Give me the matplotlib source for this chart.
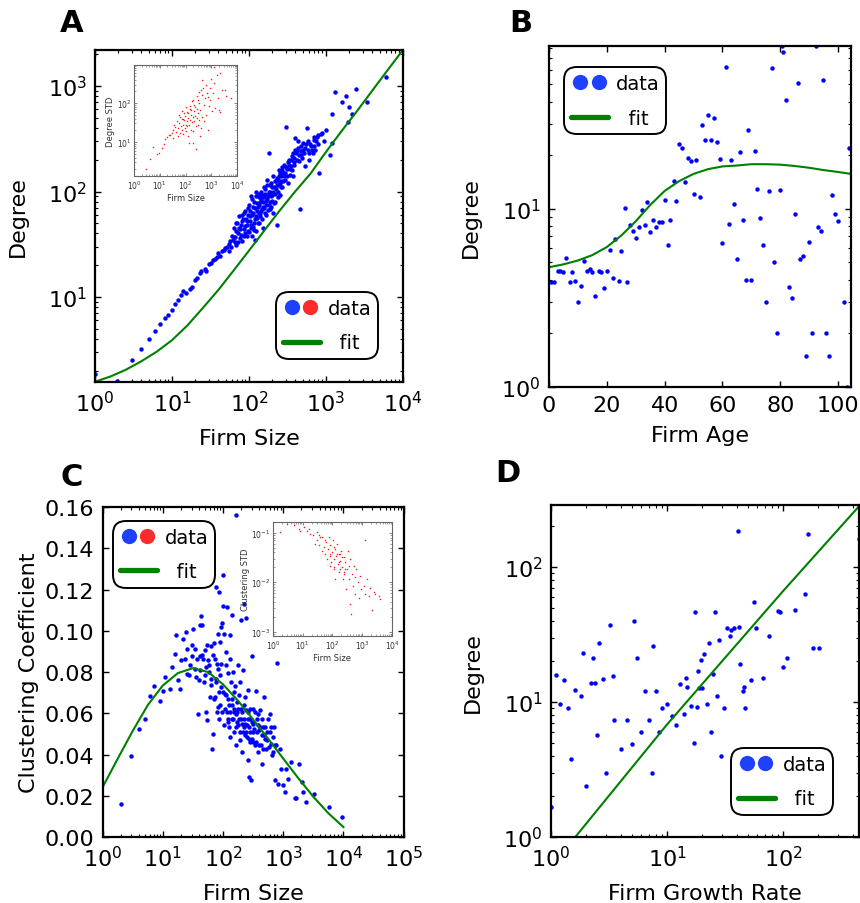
import numpy as np
import matplotlib
matplotlib.use('Agg')
import matplotlib.pyplot as plt
from matplotlib.lines import Line2D
from matplotlib.legend_handler import HandlerTuple
from matplotlib.ticker import FormatStrFormatter, LogLocator, NullFormatter

plt.rcParams['font.family'] = ['DejaVu Sans']
plt.rcParams['mathtext.fontset'] = 'dejavusans'

# ---------------- Panel A: Degree vs Firm Size ----------------
a_size_degree = [
    (1.0, 1.85), (1.95, 1.6), (3.0, 2.5), (4.0, 3.2), (5.0, 4.0), (6.0, 4.8), (7.0, 5.5), (8.0, 6.3),
    (9.0, 6.8), (10, 7.5), (11, 8.6), (12, 9.4), (13, 10.5), (14, 11.5), (15, 11.0), (17, 12.0),
    (18, 12.4), (20, 14.5), (21, 15.0), (23, 16.8), (24, 17.5), (27, 18.5), (28, 17.8), (30, 20.5),
    (32, 21), (34, 22.5), (36, 23), (38, 24), (40, 26), (42, 24.5), (44, 27), (47, 28), (49, 29),
    (52, 30), (55, 32), (57, 34), (60, 38), (62, 35), (63, 45), (65, 33), (67, 42), (70, 50),
    (72, 40), (75, 58), (77, 36), (79, 48), (80, 52), (82, 34), (85, 44), (87, 62), (90, 40),
    (92, 55), (95, 48), (98, 70), (100, 41), (103, 52), (105, 90), (108, 38), (110, 60), (112, 46),
    (115, 80), (118, 55), (120, 35), (122, 100), (125, 42), (128, 65), (130, 50), (133, 88),
    (136, 75), (140, 58), (143, 100), (146, 68), (150, 45), (153, 80), (156, 110), (160, 62),
    (163, 95), (166, 75), (170, 85), (173, 130), (176, 67), (180, 100), (184, 230), (188, 80),
    (192, 72), (196, 90), (200, 110), (205, 62), (210, 78), (215, 125), (220, 95), (225, 105),
    (230, 48), (235, 88), (240, 130), (245, 160), (250, 120), (255, 92), (260, 140), (265, 170),
    (270, 110), (280, 150), (290, 130), (300, 410), (310, 165), (320, 120), (330, 180), (340, 145),
    (350, 200), (360, 160), (370, 140), (380, 210), (390, 180), (400, 320), (410, 230), (420, 200),
    (430, 260), (450, 195), (460, 69), (470, 240), (480, 220), (500, 290), (520, 230), (540, 175),
    (560, 400), (580, 250), (600, 230), (620, 280), (650, 250), (680, 230), (700, 270), (720, 250),
    (760, 330), (800, 340), (820, 150), (850, 350), (900, 360), (950, 300), (1000, 380),
    (1130, 220), (1200, 540), (1200, 290), (1300, 870), (1600, 700), (1800, 800), (1950, 455),
    (2000, 640), (2200, 540), (2450, 930), (3400, 710), (6000, 1230),
    (55, 27), (58, 30), (66, 37), (68, 31), (74, 45), (78, 39), (84, 55), (88, 47), (93, 38),
    (96, 60), (102, 65), (106, 45), (113, 72), (117, 43), (124, 58), (127, 78), (135, 50),
    (138, 62), (145, 85), (148, 55), (158, 70), (165, 60), (175, 92), (185, 115), (190, 68),
    (198, 82), (208, 98), (218, 80), (228, 115), (238, 100), (248, 140), (258, 110), (275, 125),
    (285, 180), (295, 150), (315, 140), (335, 200), (355, 175), (375, 230), (395, 250),
    (440, 300), (490, 210), (530, 260), (610, 200), (700, 310), (780, 280),
    (68, 50), (72, 33), (76, 44), (81, 60), (86, 38), (89, 66), (94, 52), (97, 42), (101, 75),
    (104, 58), (107, 48), (111, 85), (114, 62), (116, 50), (119, 70), (123, 90), (126, 56),
    (131, 72), (134, 62), (137, 95), (141, 80), (144, 66), (149, 92), (152, 72), (157, 88),
    (161, 105), (167, 82), (171, 115), (178, 90), (182, 75), (187, 98), (194, 120), (201, 92),
    (207, 140), (213, 110), (222, 125), (232, 135), (242, 115), (252, 150), (262, 125),
    (272, 160), (283, 140), (300, 170), (320, 190), (345, 165), (365, 215), (385, 190),
    (420, 240), (445, 220), (470, 270), (510, 250), (550, 280), (590, 300), (640, 270),
    (690, 330), (740, 300),
]
a_fit_size = [1, 1.585, 2.512, 3.981, 6.31, 10, 15.85, 25.12, 39.81, 63.1, 100, 158.5, 251.2,
              398.1, 631, 1000, 1585, 2512, 3981, 6310, 10000]
a_fit_degree = [1.57, 1.76, 2.04, 2.45, 3.02, 3.89, 5.37, 7.85, 11.6, 17.8, 27.5, 42.7, 66.1,
                100, 148, 237, 372, 575, 902, 1413, 2203]
a_inset_size_std = [
    (2.9, 2.1), (4.2, 3.6), (5.7, 7.6), (8.1, 4.9), (9.7, 5.2), (12, 7.2), (14, 8.7), (16, 11.7),
    (19, 13.6), (22, 14.8), (25, 15.6), (29, 17), (32, 21), (34, 13), (36, 28), (40, 25), (43, 18),
    (46, 34), (49, 14), (53, 23), (56, 50), (58, 31), (62, 17), (65, 26), (70, 38), (72, 21),
    (76, 61), (78, 28), (83, 16), (88, 36), (94, 23), (97, 46), (100, 28), (106, 79), (109, 19),
    (112, 34), (119, 26), (123, 55), (126, 14), (130, 42), (135, 9.6), (138, 28), (143, 70),
    (151, 37), (160, 21), (165, 50), (176, 110), (181, 33), (194, 9.6), (198, 45), (204, 19),
    (216, 61), (223, 34), (238, 79), (245, 26), (262, 6.5), (269, 42), (277, 148), (293, 28),
    (311, 56), (320, 100), (330, 37), (350, 14), (370, 68), (393, 218), (405, 23), (430, 45),
    (456, 390), (500, 90), (530, 34), (580, 134), (635, 50), (676, 180), (715, 21), (790, 85),
    (860, 240), (910, 120), (1050, 61), (1240, 320), (1300, 850), (1440, 75), (1670, 520),
    (1780, 134), (1950, 68), (2100, 58), (2240, 600), (2600, 218), (3500, 218), (3800, 150),
    (5800, 134), (60, 45), (80, 40), (90, 55), (115, 60), (150, 85), (170, 65), (190, 120),
    (210, 90), (240, 48), (280, 70), (300, 120), (340, 190), (420, 160), (480, 250), (600, 300),
    (750, 140), (1000, 420), (1200, 180),
]

# ---------------- Panel B: Degree vs Firm Age ----------------
b_age_degree = [
    (0.8, 3.9), (1.7, 3.9), (3.1, 4.5), (3.9, 4.5), (4.8, 4.4), (6.0, 5.3), (7.1, 3.9), (8.1, 4.4),
    (9.1, 3.95), (10.0, 3.0), (10.9, 3.7), (12.0, 5.1), (13.1, 4.5), (14.1, 4.6), (15.0, 4.4),
    (16.0, 3.25), (17.2, 4.5), (18.1, 4.4), (19.0, 3.6), (20.0, 4.5), (21.0, 5.9), (22.1, 4.1),
    (23.0, 6.8), (24.1, 3.95), (25.0, 5.8), (26.2, 10.1), (27.1, 3.9), (27.9, 8.1), (29.0, 7.55),
    (30.1, 6.9), (31.0, 7.9), (32.1, 9.9), (33.1, 8.1), (34.0, 10.9), (35.0, 7.45), (35.9, 8.7),
    (37.1, 7.9), (38.0, 8.4), (39.0, 8.4), (40.0, 11.2), (41.0, 6.3), (42.0, 8.6), (43.1, 14.3),
    (44.0, 11.1), (45.0, 23), (46.1, 22), (47.1, 14.1), (48.0, 19.3), (49.1, 18.5), (50.0, 12.1),
    (51.0, 18.9), (52.1, 11.6), (53.1, 29.7), (54.1, 24.2), (55.1, 33.8), (56.1, 24.2), (57.0, 32.5),
    (58.1, 23.7), (59.0, 19.1), (60.0, 6.4), (61.1, 62.7), (62.1, 8.2), (63.1, 18.7), (64.1, 10.7),
    (65.1, 5.2), (66.0, 20.9), (67.1, 8.7), (68.1, 4.0), (69.0, 27.6), (70.0, 4.0), (71.1, 21),
    (72.0, 13), (73.0, 8.9), (74.1, 6.3), (75.0, 3.0), (76.0, 12.6), (77.1, 62), (78.0, 5.0),
    (79.0, 2.0), (80.0, 12.8), (80.5, 82), (81.0, 76), (82.0, 41), (83.1, 3.65), (84.0, 3.16),
    (85.0, 9.3), (86.1, 51), (87.0, 5.2), (88.0, 5.46), (88.9, 1.5), (90.0, 6.5), (91.0, 2.0),
    (92.2, 82), (93.0, 7.95), (94.0, 7.5), (94.9, 53), (96.0, 2.0), (97.0, 1.5), (97.9, 12.0),
    (99.0, 9.3), (100.0, 8.5), (102.1, 3.0), (103.0, 1.0), (103.7, 22),
]
b_fit_age = [0, 5, 10, 15, 20, 25, 30, 35, 40, 45, 50, 55, 60, 65, 70, 75, 80, 85, 90, 95, 100, 104.5]
b_fit_degree = [4.70, 4.88, 5.13, 5.50, 6.10, 7.08, 8.51, 10.5, 12.6, 14.3, 15.7, 16.7, 17.3,
                17.5, 17.8, 17.8, 17.7, 17.4, 17.0, 16.5, 16.1, 15.7]

# ---------------- Panel C: Clustering vs Firm Size ----------------
c_size_clust = [
    (2.0, 0.0162), (3.0, 0.0393), (4.0, 0.0525), (5.0, 0.0574), (6.1, 0.0682), (7.1, 0.073),
    (8.9, 0.066), (10.1, 0.0706), (11, 0.0776), (13, 0.0719), (14, 0.0824), (15.8, 0.0889),
    (18, 0.0763), (19.6, 0.0719), (20, 0.0857), (22, 0.0961), (24, 0.0994), (25, 0.0792),
    (27, 0.0784), (30, 0.088), (32, 0.101), (34, 0.0913), (35, 0.0776), (38, 0.0598), (40, 0.076),
    (41, 0.088), (43, 0.107), (44, 0.1026), (48, 0.0751), (50, 0.0905), (52, 0.0824), (54, 0.0566),
    (56, 0.0857), (60, 0.0679), (64, 0.0924), (66, 0.0428), (69, 0.050), (73, 0.0865), (76, 0.0751),
    (77, 0.121), (79, 0.084), (82, 0.063), (85, 0.119), (88, 0.0945), (90, 0.0784), (94, 0.0727),
    (96, 0.1037), (98, 0.1118), (101, 0.1269), (104, 0.0986), (107, 0.0695), (110, 0.0897),
    (114, 0.0606), (117, 0.1115), (120, 0.0795), (122, 0.0558), (126, 0.0638), (129, 0.0978),
    (132, 0.0485), (135, 0.0751), (139, 0.1075), (143, 0.0574), (146, 0.080), (150, 0.0622),
    (154, 0.0509), (157, 0.073), (161, 0.156), (166, 0.0444), (170, 0.0606), (175, 0.0832),
    (179, 0.0541), (184, 0.0687), (189, 0.0469), (194, 0.0751), (198, 0.105), (204, 0.0412),
    (209, 0.0549), (214, 0.0808), (220, 0.0638), (225, 0.113), (231, 0.0493), (237, 0.106),
    (243, 0.0614), (249, 0.0541), (255, 0.0711), (262, 0.0372), (268, 0.0291), (275, 0.0574),
    (282, 0.0461), (294, 0.0275), (308, 0.088), (311, 0.0509), (319, 0.0622), (334, 0.0444),
    (347, 0.0708), (364, 0.0574), (376, 0.0412), (393, 0.0517), (412, 0.0614), (430, 0.0444),
    (447, 0.0352), (465, 0.0533), (484, 0.0679), (505, 0.0477), (521, 0.0428), (557, 0.0574),
    (591, 0.0598), (630, 0.0452), (650, 0.0396), (697, 0.0533), (717, 0.0275), (788, 0.0845),
    (810, 0.0259), (866, 0.0428), (930, 0.0331), (1000, 0.025), (1060, 0.0218), (1130, 0.0331),
    (1200, 0.0283), (1360, 0.0364), (1540, 0.0189), (1640, 0.0189), (1850, 0.0352), (2050, 0.0267),
    (2140, 0.0218), (2420, 0.017), (3300, 0.021), (5700, 0.0145), (9600, 0.0097),
    (47, 0.0865), (53, 0.0606), (59, 0.080), (62, 0.0735), (71, 0.067), (86, 0.0574), (92, 0.084),
    (99, 0.0703), (111, 0.0832), (121, 0.067), (130, 0.0865), (141, 0.067), (152, 0.0703),
    (164, 0.0598), (173, 0.0654), (186, 0.0574), (201, 0.0622), (211, 0.0509), (222, 0.0574),
    (234, 0.0679), (246, 0.0485), (258, 0.0606), (272, 0.0533), (285, 0.0622), (303, 0.0477),
    (315, 0.0549), (342, 0.0606), (360, 0.0509), (380, 0.0598), (404, 0.0533), (443, 0.0574),
    (480, 0.0493), (541, 0.0469), (600, 0.0509), (670, 0.0485), (762, 0.0444),
    (16.8, 0.098), (41, 0.1026), (70, 0.094), (83, 0.0986), (94, 0.1018),
    (72.8, 0.0679), (79.5, 0.0606), (85.9, 0.0703), (90.3, 0.0638), (97.5, 0.0606), (102.6, 0.0541),
    (108, 0.0622), (113.6, 0.0687), (119.4, 0.0574), (125.6, 0.0533), (132.4, 0.0606),
    (139.2, 0.0638), (146.5, 0.0574), (154, 0.0606), (162, 0.0533), (170.6, 0.0558),
    (179.5, 0.0622), (188.8, 0.0509), (198.6, 0.0574), (209, 0.0606), (220, 0.0533),
    (231.5, 0.0549), (243.6, 0.0509), (256.3, 0.0574), (269.8, 0.0477), (283.8, 0.0509),
    (298.6, 0.0558), (314, 0.0461), (330, 0.0525), (356.7, 0.0461), (375.4, 0.0541), (395, 0.0444),
    (437.6, 0.0493), (460, 0.0428), (497, 0.0533), (536, 0.0509), (578, 0.0436), (625, 0.0533),
    (674, 0.0412), (728, 0.0444),
    (23.2, 0.0865), (25.3, 0.0913), (28, 0.0832), (31, 0.0929), (34.4, 0.0816), (37, 0.0865),
    (41, 0.0808), (45.4, 0.0881), (50.3, 0.0784), (54.3, 0.0929), (58.6, 0.0832), (63.3, 0.0768),
    (68.3, 0.0881), (77.6, 0.0768), (83.7, 0.0816),
]
c_fit_size = [1, 1.778, 3.162, 5.623, 10, 17.78, 31.62, 56.23, 100, 177.8, 316.2, 562.3, 1000,
              1778, 3162, 5623, 10000]
c_fit_clust = [0.0242, 0.0380, 0.0515, 0.0640, 0.0735, 0.0795, 0.0819, 0.0800, 0.0740, 0.0660,
               0.0570, 0.0476, 0.0380, 0.0285, 0.0195, 0.0115, 0.0048]
c_inset_size_std = [
    (1.76, 0.103), (2.95, 0.15), (4.96, 0.141), (7.3, 0.12), (10.7, 0.13), (13.9, 0.11), (18, 0.095),
    (23, 0.088), (26.5, 0.060), (30, 0.070), (34, 0.0553), (39, 0.0816), (44, 0.0437), (50, 0.051),
    (57, 0.0374), (62, 0.0646), (65, 0.0296), (71, 0.0473), (74, 0.0816), (80, 0.0346), (85, 0.0553),
    (89, 0.0253), (96, 0.0405), (104, 0.070), (109, 0.0296), (115, 0.0200), (124, 0.0473),
    (131, 0.0346), (141, 0.0598), (149, 0.0234), (161, 0.0374), (170, 0.0158), (183, 0.0274),
    (193, 0.0437), (209, 0.0200), (220, 0.0116), (237, 0.032), (250, 0.0147), (268, 0.0253),
    (283, 0.0073), (307, 0.0185), (324, 0.0437), (349, 0.0116), (377, 0.0036), (396, 0.0296),
    (417, 0.0023), (451, 0.0147), (488, 0.0085), (515, 0.0217), (557, 0.0057), (587, 0.0126),
    (634, 0.0185), (700, 0.0099), (755, 0.0049), (857, 0.0136), (929, 0.0073), (1200, 0.070),
    (1120, 0.0085), (1270, 0.0057), (1450, 0.0116), (1650, 0.0053), (1860, 0.0078), (2130, 0.0028),
    (2410, 0.0062), (2760, 0.0057), (3570, 0.0052), (4000, 0.0045),
    (30, 0.103), (44, 0.082), (57, 0.07), (85, 0.0374), (109, 0.051), (141, 0.0374), (161, 0.0253),
    (183, 0.0185), (237, 0.0158), (268, 0.0185), (349, 0.0217), (109, 0.0185), (85, 0.0217),
    (124, 0.0116), (183, 0.0374), (209, 0.032), (34, 0.088), (16, 0.12), (8.3, 0.11),
]

# ---------------- Panel D: Degree vs Firm Growth Rate ----------------
d_growth_degree = [
    (1.0, 1.66), (1.1, 15.7), (1.2, 9.7), (1.3, 14.6), (1.4, 9.0), (1.5, 3.8), (1.6, 12.3),
    (1.8, 11), (1.9, 23), (2.0, 2.4), (2.2, 13.8), (2.3, 21), (2.4, 13.8), (2.5, 5.7), (2.6, 27.5),
    (2.8, 14.8), (3.0, 3.0), (3.2, 37), (3.4, 15.5), (3.5, 7.3), (4.0, 4.5), (4.5, 7.4), (5.0, 4.9),
    (5.2, 40), (5.5, 21), (6.0, 6.0), (6.5, 12.1), (7.0, 7.4), (7.5, 3.0), (7.6, 26), (8.0, 12.0),
    (8.5, 6.0), (9.0, 9.0), (10, 9.7), (11, 7.9), (12, 6.8), (13, 13.6), (14, 8.1), (14.5, 15),
    (15, 13), (16, 9.3), (17, 5.0), (17.5, 46), (18, 9.2), (18.4, 17), (19, 12.7), (19.5, 20.5),
    (20, 12.6), (21, 22.6), (22, 9.6), (23, 27.5), (24, 6.0), (25, 16), (26, 46), (27, 11),
    (28, 28.7), (29, 4.0), (31, 9.0), (33, 35), (35, 31), (36, 34), (38, 35), (41, 185), (42, 36),
    (43, 19), (45, 12), (46, 13), (47, 9.0), (53, 14.6), (56, 55), (59, 35), (68, 15), (76, 31),
    (91, 47), (95, 46), (100, 18), (108, 21), (128, 48), (155, 63), (163, 175), (180, 25),
    (203, 25), (457, 160),
]
d_fit_growth = [1.62, 10, 100, 458]
d_fit_degree = [1.0, 6.8, 66, 284]

# ---------------- drawing ----------------
fig = plt.figure(figsize=(8.6, 9.04), dpi=100)

BLUE = '#0000ff'
GREEN = '#008000'
RED = '#ff1a1a'
LEG_BLUE = '#2040ff'
LEG_RED = '#ff2a2a'
TICK_FS = 16
LABEL_FS = 16


def log_ticks(axis):
    axis.set_major_locator(LogLocator(base=10, numticks=100))
    axis.set_minor_locator(LogLocator(base=10, subs=np.arange(2, 10), numticks=100))
    axis.set_minor_formatter(NullFormatter())


def style_axes(ax):
    ax.tick_params(which='both', direction='in', top=True, right=True, labelsize=TICK_FS, pad=6)
    ax.tick_params(which='major', length=4.5, width=1.0)
    ax.tick_params(which='minor', length=2.3, width=0.8)
    for s in ax.spines.values():
        s.set_linewidth(1.6)


def style_inset(ax):
    ax.tick_params(which='both', direction='in', top=True, right=True, labelsize=5.5,
                   pad=2, colors='#555555', labelcolor='#333333')
    ax.tick_params(which='major', length=2.5, width=0.5)
    ax.tick_params(which='minor', length=1.2, width=0.4)
    for s in ax.spines.values():
        s.set_linewidth(0.8)
        s.set_edgecolor('#666666')


def add_legend(ax, c2, loc, anchor):
    h1 = Line2D([], [], ls='none', marker='o', ms=11, mfc=LEG_BLUE, mec='none')
    h2 = Line2D([], [], ls='none', marker='o', ms=11, mfc=c2, mec='none')
    hf = Line2D([], [], color=GREEN, lw=3.8, solid_capstyle='round')
    leg = ax.legend([(h1, h2), hf], ['data', '  fit'],
                    handler_map={tuple: HandlerTuple(ndivide=None, pad=0.0)},
                    loc=loc, bbox_to_anchor=anchor, borderaxespad=0, fontsize=14,
                    handlelength=1.9, handletextpad=0.4, borderpad=0.35, labelspacing=0.8,
                    frameon=True, fancybox=True, framealpha=1)
    fr = leg.get_frame()
    fr.set_edgecolor('black')
    fr.set_linewidth(1.4)
    fr.set_boxstyle('round,pad=0,rounding_size=0.65')
    return leg


def split(pairs):
    return [p[0] for p in pairs], [p[1] for p in pairs]


# Panel A
axA = fig.add_axes([0.1105, 0.5763, 0.358, 0.3673])
x, y = split(a_size_degree)
axA.plot(x, y, 'o', color=BLUE, ms=3.2, mec='none')
axA.plot(a_fit_size, a_fit_degree, '-', color=GREEN, lw=1.5)
axA.set_xscale('log')
axA.set_yscale('log')
axA.set_xlim(1, 1e4)
axA.set_ylim(1.56, 2200)
log_ticks(axA.xaxis)
log_ticks(axA.yaxis)
style_axes(axA)
axA.set_xlabel('Firm Size', fontsize=LABEL_FS, labelpad=9)
axA.set_ylabel('Degree', fontsize=LABEL_FS, labelpad=14)
add_legend(axA, LEG_RED, 'lower right', (0.919, 0.069))

axAi = fig.add_axes([0.1558, 0.8042, 0.1198, 0.1228])
x, y = split(a_inset_size_std)
axAi.plot(x, y, 'o', color=RED, ms=1.1, mec='none')
axAi.set_xscale('log')
axAi.set_yscale('log')
axAi.set_xlim(1, 1e4)
axAi.set_ylim(1.35, 950)
log_ticks(axAi.xaxis)
log_ticks(axAi.yaxis)
style_inset(axAi)
axAi.set_xlabel('Firm Size', fontsize=6, labelpad=1, color='#333333')
axAi.set_ylabel('Degree STD', fontsize=6, labelpad=1, color='#333333')

# Panel B
axB = fig.add_axes([0.6384, 0.5708, 0.3512, 0.3772])
x, y = split(b_age_degree)
axB.plot(x, y, 'o', color=BLUE, ms=3.2, mec='none')
axB.plot(b_fit_age, b_fit_degree, '-', color=GREEN, lw=1.5)
axB.set_yscale('log')
axB.set_xlim(0, 104.5)
axB.set_ylim(1, 82)
axB.set_xticks([0, 20, 40, 60, 80, 100])
log_ticks(axB.yaxis)
style_axes(axB)
axB.set_xlabel('Firm Age', fontsize=LABEL_FS, labelpad=7)
axB.set_ylabel('Degree', fontsize=LABEL_FS, labelpad=15)
add_legend(axB, LEG_BLUE, 'upper left', (0.05, 0.938))

# Panel C
axC = fig.add_axes([0.1194, 0.073, 0.350, 0.365])
x, y = split(c_size_clust)
axC.plot(x, y, 'o', color=BLUE, ms=3.2, mec='none')
axC.plot(c_fit_size, c_fit_clust, '-', color=GREEN, lw=1.5)
axC.set_xscale('log')
axC.set_xlim(1, 1e5)
axC.set_ylim(0, 0.16)
log_ticks(axC.xaxis)
axC.set_yticks([0, 0.02, 0.04, 0.06, 0.08, 0.10, 0.12, 0.14, 0.16])
axC.yaxis.set_major_formatter(FormatStrFormatter('%.2f'))
style_axes(axC)
axC.set_xlabel('Firm Size', fontsize=LABEL_FS, labelpad=9)
axC.set_ylabel('Clustering Coefficient', fontsize=LABEL_FS, labelpad=4)
add_legend(axC, LEG_RED, 'upper left', (0.034, 0.958))

axCi = fig.add_axes([0.3174, 0.2954, 0.1384, 0.1261])
x, y = split(c_inset_size_std)
axCi.plot(x, y, 'o', color=RED, ms=1.1, mec='none')
axCi.set_xscale('log')
axCi.set_yscale('log')
axCi.set_xlim(1, 1e4)
axCi.set_ylim(8.2e-4, 0.165)
log_ticks(axCi.xaxis)
log_ticks(axCi.yaxis)
style_inset(axCi)
axCi.set_xlabel('Firm Size', fontsize=6, labelpad=1, color='#333333')
axCi.set_ylabel('Clustering STD', fontsize=6, labelpad=1, color='#333333')

# Panel D
axD = fig.add_axes([0.6407, 0.073, 0.358, 0.367])
x, y = split(d_growth_degree)
axD.plot(x, y, 'o', color=BLUE, ms=3.2, mec='none')
axD.plot(d_fit_growth, d_fit_degree, '-', color=GREEN, lw=1.5)
axD.set_xscale('log')
axD.set_yscale('log')
axD.set_xlim(1, 452)
axD.set_ylim(1, 286)
log_ticks(axD.xaxis)
log_ticks(axD.yaxis)
style_axes(axD)
axD.set_xlabel('Firm Growth Rate', fontsize=LABEL_FS, labelpad=9)
axD.set_ylabel('Degree', fontsize=LABEL_FS, labelpad=15)
add_legend(axD, LEG_BLUE, 'lower right', (0.916, 0.066))

# panel letters
for letter, px, py in [('A', 72, 24), ('B', 521, 24), ('C', 72, 478), ('D', 508, 474)]:
    fig.text(px / 860, 1 - py / 904, letter, ha='center', va='center', fontsize=22,
             fontweight='bold')

fig.savefig('out.png', dpi=100)
